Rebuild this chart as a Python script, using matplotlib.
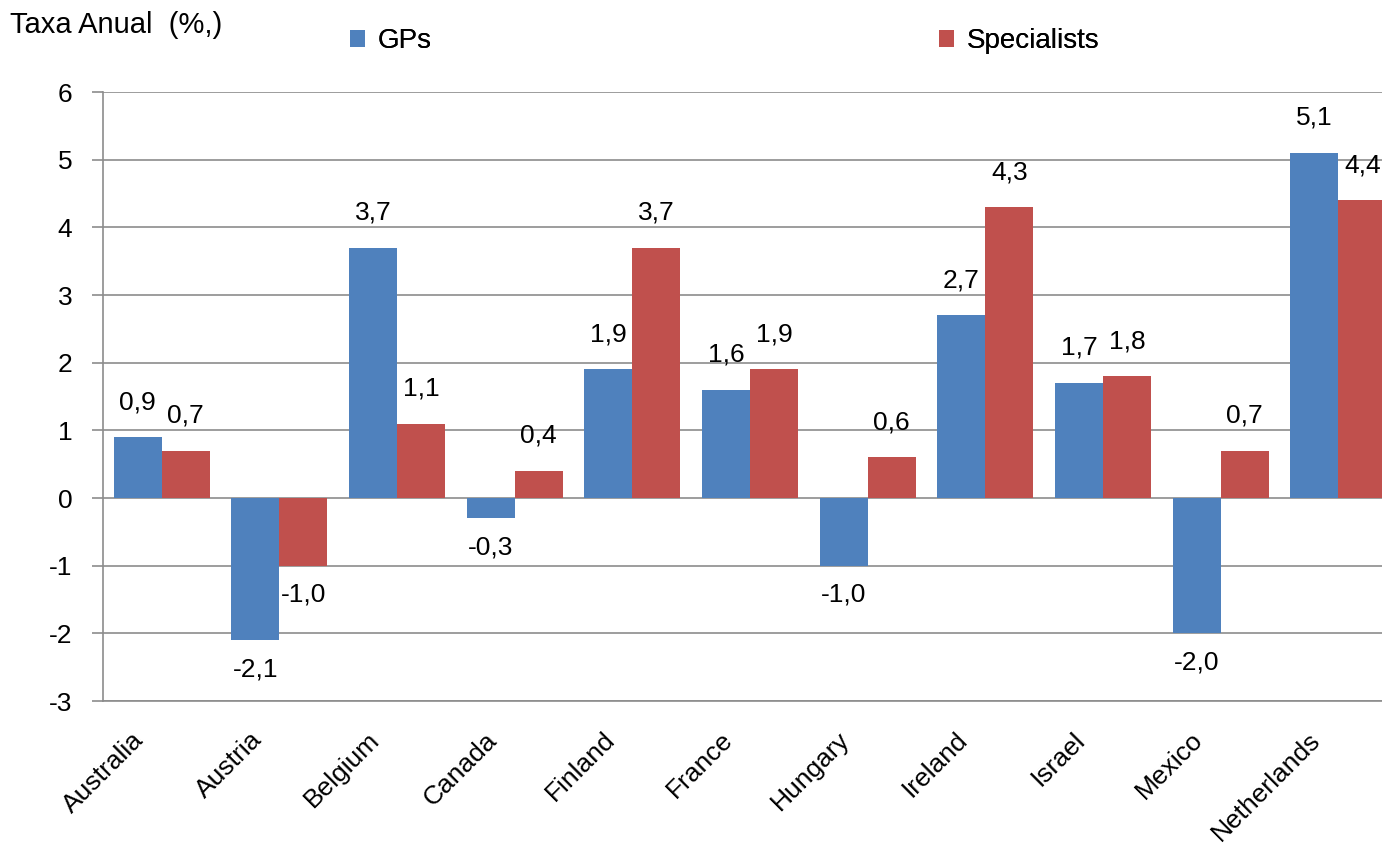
import matplotlib.pyplot as plt
import matplotlib.transforms as mtransforms
import numpy as np

countries = ['Australia', 'Austria', 'Belgium', 'Canada', 'Finland', 'France',
             'Hungary', 'Ireland', 'Israel', 'Mexico', 'Netherlands']
gps = [0.9, -2.1, 3.7, -0.3, 1.9, 1.6, -1.0, 2.7, 1.7, -2.0, 5.1]
specialists = [0.7, -1.0, 1.1, 0.4, 3.7, 1.9, 0.6, 4.3, 1.8, 0.7, 4.4]

plt.rcParams['font.family'] = ['Liberation Sans', 'DejaVu Sans']
FS = 19

fig = plt.figure(figsize=(13.82, 8.48), dpi=100)
ax = fig.add_axes([0.0745, 0.1733, 0.9365, 0.7182])

x = np.arange(len(countries))
w = 0.408
b1 = ax.bar(x - w / 2, gps, w, color='#4F81BD', label='GPs', zorder=3)
b2 = ax.bar(x + w / 2, specialists, w, color='#C0504D', label='Specialists', zorder=3)

# value labels, outside end, with comma decimals
for bars, vals in ((b1, gps), (b2, specialists)):
    for r, v in zip(bars, vals):
        cx = r.get_x() + r.get_width() / 2
        off = 35 if v >= 0 else -29
        ax.annotate(f'{v:.1f}'.replace('.', ','), (cx, v), xytext=(0, off * 0.72),
                    textcoords='offset points', ha='center', va='center',
                    fontsize=FS, zorder=4, annotation_clip=False)

ax.set_xlim(-0.5, 10.5)
ax.set_ylim(-3, 6)
ax.set_yticks(range(-3, 7))
ax.set_yticklabels([str(t) for t in range(-3, 7)], fontsize=FS)
ax.yaxis.grid(True, color='#8C8C8C', linewidth=1.2, zorder=0)
ax.set_xticks(x)
ax.set_xticklabels(countries, rotation=45, ha='right', va='top',
                   rotation_mode='anchor', fontsize=FS)
ax.tick_params(axis='x', length=0, pad=12)
ax.tick_params(axis='y', length=8, color='#8C8C8C', width=1.2, pad=14)
for s in ('top', 'right'):
    ax.spines[s].set_visible(False)
for s in ('left', 'bottom'):
    ax.spines[s].set_color('#8C8C8C')
    ax.spines[s].set_linewidth(1.2)

# nudge the slanted category names left/down (after tick_params so it sticks)
shift = mtransforms.ScaledTranslation(-30 / 100, -10 / 100, fig.dpi_scale_trans)
for lbl in ax.get_xticklabels():
    lbl.set_transform(lbl.get_transform() + shift)

fig.text(0.007, 0.9705, 'Taxa Anual  (%,)', fontsize=21, va='center', ha='left')

# two separate legend entries placed across the top
for h, xpos in ((b1, 0.2533), (b2, 0.6795)):
    leg = fig.legend(handles=[h], loc='center left', bbox_to_anchor=(xpos, 0.9517),
                     frameon=False, fontsize=20, handlelength=0.55, handleheight=0.55,
                     handletextpad=0.43, borderpad=0, borderaxespad=0)
    fig.add_artist(leg)

fig.savefig('out.png', dpi=100)
